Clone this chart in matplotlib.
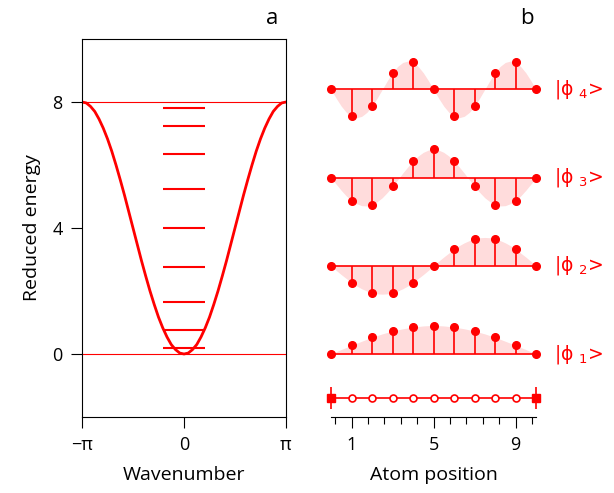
import numpy as np
import matplotlib
matplotlib.use('Agg')
import matplotlib.pyplot as plt

plt.rcParams['font.family'] = ['Open Sans', 'DejaVu Sans']

RED = '#ff0000'
PINK = '#ffdcdc'

# panel a: dispersion curve, read every 7.5 degrees of k
k_deg = [-180 + 7.5 * i for i in range(49)]
energy = [8.0, 7.97, 7.86, 7.70, 7.46, 7.17, 6.83, 6.44, 6.0, 5.53, 5.04, 4.52,
          4.0, 3.48, 2.96, 2.47, 2.0, 1.57, 1.17, 0.83, 0.54, 0.30, 0.14, 0.03,
          0.0,
          0.03, 0.14, 0.30, 0.54, 0.83, 1.17, 1.57, 2.0, 2.47, 2.96, 3.48, 4.0,
          4.52, 5.04, 5.53, 6.0, 6.44, 6.83, 7.17, 7.46, 7.70, 7.86, 7.97, 8.0]
levels = [0.2, 0.76, 1.65, 2.76, 4.0, 5.24, 6.35, 7.24, 7.8]

# panel b: site amplitudes (sites 0..10) and the shaded envelope (every quarter site)
atoms = list(range(11))
phi1 = [0, 0.31, 0.59, 0.81, 0.95, 1.0, 0.95, 0.81, 0.59, 0.31, 0]
phi2 = [0, -0.59, -0.95, -0.95, -0.59, 0, 0.59, 0.95, 0.95, 0.59, 0]
phi3 = [0, -0.81, -0.95, -0.31, 0.59, 1.0, 0.59, -0.31, -0.95, -0.81, 0]
phi4 = [0, -0.95, -0.59, 0.59, 0.95, 0, -0.95, -0.59, 0.59, 0.95, 0]

env_x = [i / 4 for i in range(41)]
env1 = [0, .08, .16, .23, .31, .38, .45, .52, .59, .65, .71, .76, .81, .85, .89, .92,
        .95, .97, .99, 1.0, 1.0, 1.0, .99, .97, .95, .92, .89, .85, .81, .76, .71,
        .65, .59, .52, .45, .38, .31, .23, .16, .08, 0]
env2 = [0, -.16, -.31, -.45, -.59, -.71, -.81, -.89, -.95, -.99, -1.0, -.99, -.95,
        -.89, -.81, -.71, -.59, -.45, -.31, -.16, 0, .16, .31, .45, .59, .71, .81,
        .89, .95, .99, 1.0, .99, .95, .89, .81, .71, .59, .45, .31, .16, 0]
env3 = [0, -.23, -.45, -.65, -.81, -.92, -.99, -1.0, -.95, -.85, -.71, -.52, -.31,
        -.08, .16, .38, .59, .76, .89, .97, 1.0, .97, .89, .76, .59, .38, .16, -.08,
        -.31, -.52, -.71, -.85, -.95, -1.0, -.99, -.92, -.81, -.65, -.45, -.23, 0]
env4 = [0, -.31, -.59, -.81, -.95, -1.0, -.95, -.81, -.59, -.31, 0, .31, .59, .81,
        .95, 1.0, .95, .81, .59, .31, 0, -.31, -.59, -.81, -.95, -1.0, -.95, -.81,
        -.59, -.31, 0, .31, .59, .81, .95, 1.0, .95, .81, .59, .31, 0]

states = [phi1, phi2, phi3, phi4]
envelopes = [env1, env2, env3, env4]
state_names = ['1', '2', '3', '4']
row_offsets = [0, 2.8, 5.6, 8.4]
amp = 0.9
chain_y = -1.4

fig = plt.figure(figsize=(6.14, 4.93), dpi=100)
W, H = 614, 493
ax_a = fig.add_axes([82 / W, 1 - 417 / H, 204 / W, 378 / H])
ax_b = fig.add_axes([331 / W, 1 - 417 / H, 205 / W, 378 / H])

# ---- panel a
k = np.radians(k_deg)
ax_a.axhline(0, color=RED, lw=0.8)
ax_a.axhline(8, color=RED, lw=0.8)
ax_a.plot(k, energy, color=RED, lw=2.0, solid_joinstyle='round')
ax_a.hlines(levels, -0.65, 0.65, color=RED, lw=1.5)

ax_a.set_xlim(-np.pi, np.pi)
ax_a.set_ylim(-2, 10)
ax_a.set_xticks([-np.pi, 0, np.pi])
ax_a.set_xticklabels(['\u2212\u03c0', '0', '\u03c0'])
ax_a.set_yticks([0, 4, 8])
ax_a.tick_params(direction='out', length=8, width=0.8, labelsize=13, pad=6)
for s in ax_a.spines.values():
    s.set_linewidth(0.8)
ax_a.set_xlabel('Wavenumber', fontsize=14, labelpad=8)
ax_a.set_ylabel('Reduced energy', fontsize=14, labelpad=8)

# ---- panel b
for phi, env, name, off in zip(states, envelopes, state_names, row_offsets):
    ax_b.fill_between(env_x, off, [off + amp * v for v in env], color=PINK, lw=0)
    ax_b.plot([atoms[0], atoms[-1]], [off, off], color=RED, lw=1.2)
    ax_b.vlines(atoms, off, [off + amp * v for v in phi], color=RED, lw=1.2)
    ax_b.plot(atoms, [off + amp * v for v in phi], 'o', color=RED, ms=5.5, clip_on=False)
    ax_b.text(10.9, off, '|\u03d5 $_{' + name + '}$>', color=RED, fontsize=13.5,
              va='center', ha='left', family=['DejaVu Sans'])

ax_b.plot([atoms[0], atoms[-1]], [chain_y, chain_y], color=RED, lw=1.2)
ax_b.plot(atoms[1:-1], [chain_y] * 9, 'o', mfc='white', mec=RED, mew=1.2, ms=5)
ax_b.plot([atoms[0], atoms[-1]], [chain_y] * 2, 's', color=RED, ms=6, clip_on=False)
ax_b.plot([atoms[0], atoms[-1]], [chain_y] * 2, '|', color=RED, ms=16, mew=1.2, clip_on=False)

ax_b.set_xlim(0, 10)
ax_b.set_ylim(-2, 10)
for side in ['left', 'right', 'top']:
    ax_b.spines[side].set_visible(False)
ax_b.spines['bottom'].set_linewidth(0.8)
ax_b.set_yticks([])
ax_b.set_xticks([1, 5, 9])
ax_b.set_xticks([0.2, 1.8, 2.6, 3.4, 4.2, 5.8, 6.6, 7.4, 8.2, 9.8], minor=True)
ax_b.tick_params(axis='x', which='major', direction='out', length=8, width=0.8,
                 labelsize=13, pad=6)
ax_b.tick_params(axis='x', which='minor', direction='out', length=5, width=0.8)
ax_b.set_xlabel('Atom position', fontsize=14, labelpad=8)

fig.text(272 / W, 1 - 18 / H, 'a', fontsize=16, ha='center', va='center')
fig.text(527 / W, 1 - 18 / H, 'b', fontsize=16, ha='center', va='center')

fig.savefig('out.png', dpi=100)
